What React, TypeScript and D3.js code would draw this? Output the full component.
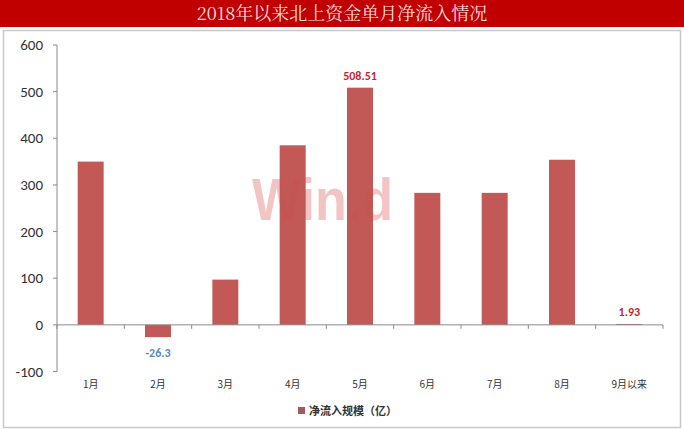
import * as d3 from "d3";
import { useEffect } from "react";

const months = ["1月", "2月", "3月", "4月", "5月", "6月", "7月", "8月", "9月以来"];
const netInflow = [350, -26.3, 97, 385, 508.51, 283, 283, 354, 1.93];
const yTicks = [-100, 0, 100, 200, 300, 400, 500, 600];
const labelled = [
  { month: "2月", text: "-26.3", color: "#5b87b8" },
  { month: "5月", text: "508.51", color: "#c0262d" },
  { month: "9月以来", text: "1.93", color: "#c0262d" },
];

const W = 684;
const H = 430;
const margin = { top: 45, left: 57, right: 21, bottom: 58 };

export default function App() {
  useEffect(() => {
    document.body.style.margin = "0";
  }, []);

  const x = d3
    .scaleBand<string>()
    .domain(months)
    .range([margin.left, W - margin.right]);
  const y = d3.scaleLinear().domain([-100, 600]).range([371.5, margin.top]);
  const bandW = x.bandwidth();
  const cx = (m: string) => (x(m) ?? 0) + bandW / 2;
  const x0 = margin.left;
  const boundaries = months.map((m) => x(m) ?? 0).concat([W - margin.right]);
  const barW = 26;
  const font = "Calibri, Carlito, 'Liberation Sans', 'Noto Sans', Arial, sans-serif";
  const cjk = "'Noto Sans CJK SC', 'Noto Sans', sans-serif";

  return (
    <svg width={W} height={H} style={{ display: "block", background: "#fff" }}>
      <rect x={0} y={0} width={W} height={27} fill="#c00000" />
      <text
        x={W / 2}
        y={20}
        textAnchor="middle"
        fill="#f6dede"
        fontSize={18}
        fontFamily="'Noto Serif CJK SC', 'Noto Sans CJK SC', serif"
      >
        2018年以来北上资金单月净流入情况
      </text>
      <rect x={3.5} y={30.5} width={677} height={397} fill="#fff" stroke="#c8c8c8" strokeWidth={1.5} />

      <text
        x={252}
        y={220}
        fill="#e88a8a"
        opacity={0.5}
        fontSize={60}
        fontWeight="bold"
        textLength={141}
        lengthAdjust="spacingAndGlyphs"
        fontFamily="'Liberation Sans', Arial, sans-serif"
      >
        Win.d
      </text>

      {months.map((m, i) => {
        const v = netInflow[i];
        return (
          <rect
            key={m}
            x={cx(m) - barW / 2}
            y={y(Math.max(0, v))}
            width={barW}
            height={Math.abs(y(v) - y(0))}
            fill="#c0504d"
            opacity={0.95}
          />
        );
      })}

      {/* y axis */}
      <line x1={x0} x2={x0} y1={y(600)} y2={y(-100)} stroke="#8a8a8a" />
      {yTicks.map((t) => (
        <g key={t}>
          <line x1={x0 - 4} x2={x0} y1={y(t)} y2={y(t)} stroke="#8a8a8a" />
          <text x={x0 - 14} y={y(t) + 5} textAnchor="end" fontSize={15} fill="#333" fontFamily={font}>
            {t}
          </text>
        </g>
      ))}

      {/* x axis at zero */}
      <line x1={x0} x2={W - margin.right} y1={y(0)} y2={y(0)} stroke="#8a8a8a" />
      {boundaries.map((b, i) => (
        <line key={i} x1={b} x2={b} y1={y(0)} y2={y(0) + 4} stroke="#8a8a8a" />
      ))}
      {months.map((m) => (
        <text key={m} x={cx(m)} y={388} textAnchor="middle" fontSize={10} fill="#333" fontFamily={cjk}>
          {m}
        </text>
      ))}

      {labelled.map((l) => {
        const v = netInflow[months.indexOf(l.month)];
        const yy = v >= 0 ? y(v) - 8 : y(v) + 20;
        return (
          <text
            key={l.month}
            x={cx(l.month)}
            y={yy}
            textAnchor="middle"
            fontSize={12}
            fontWeight="bold"
            fill={l.color}
            fontFamily={font}
          >
            {l.text}
          </text>
        );
      })}

      {/* legend */}
      <rect x={298} y={407} width={7} height={7} fill="#a05a5f" />
      <text x={309} y={415} fontSize={11} fontWeight="bold" fill="#333" fontFamily={cjk}>
        净流入规模（亿）
      </text>
    </svg>
  );
}
